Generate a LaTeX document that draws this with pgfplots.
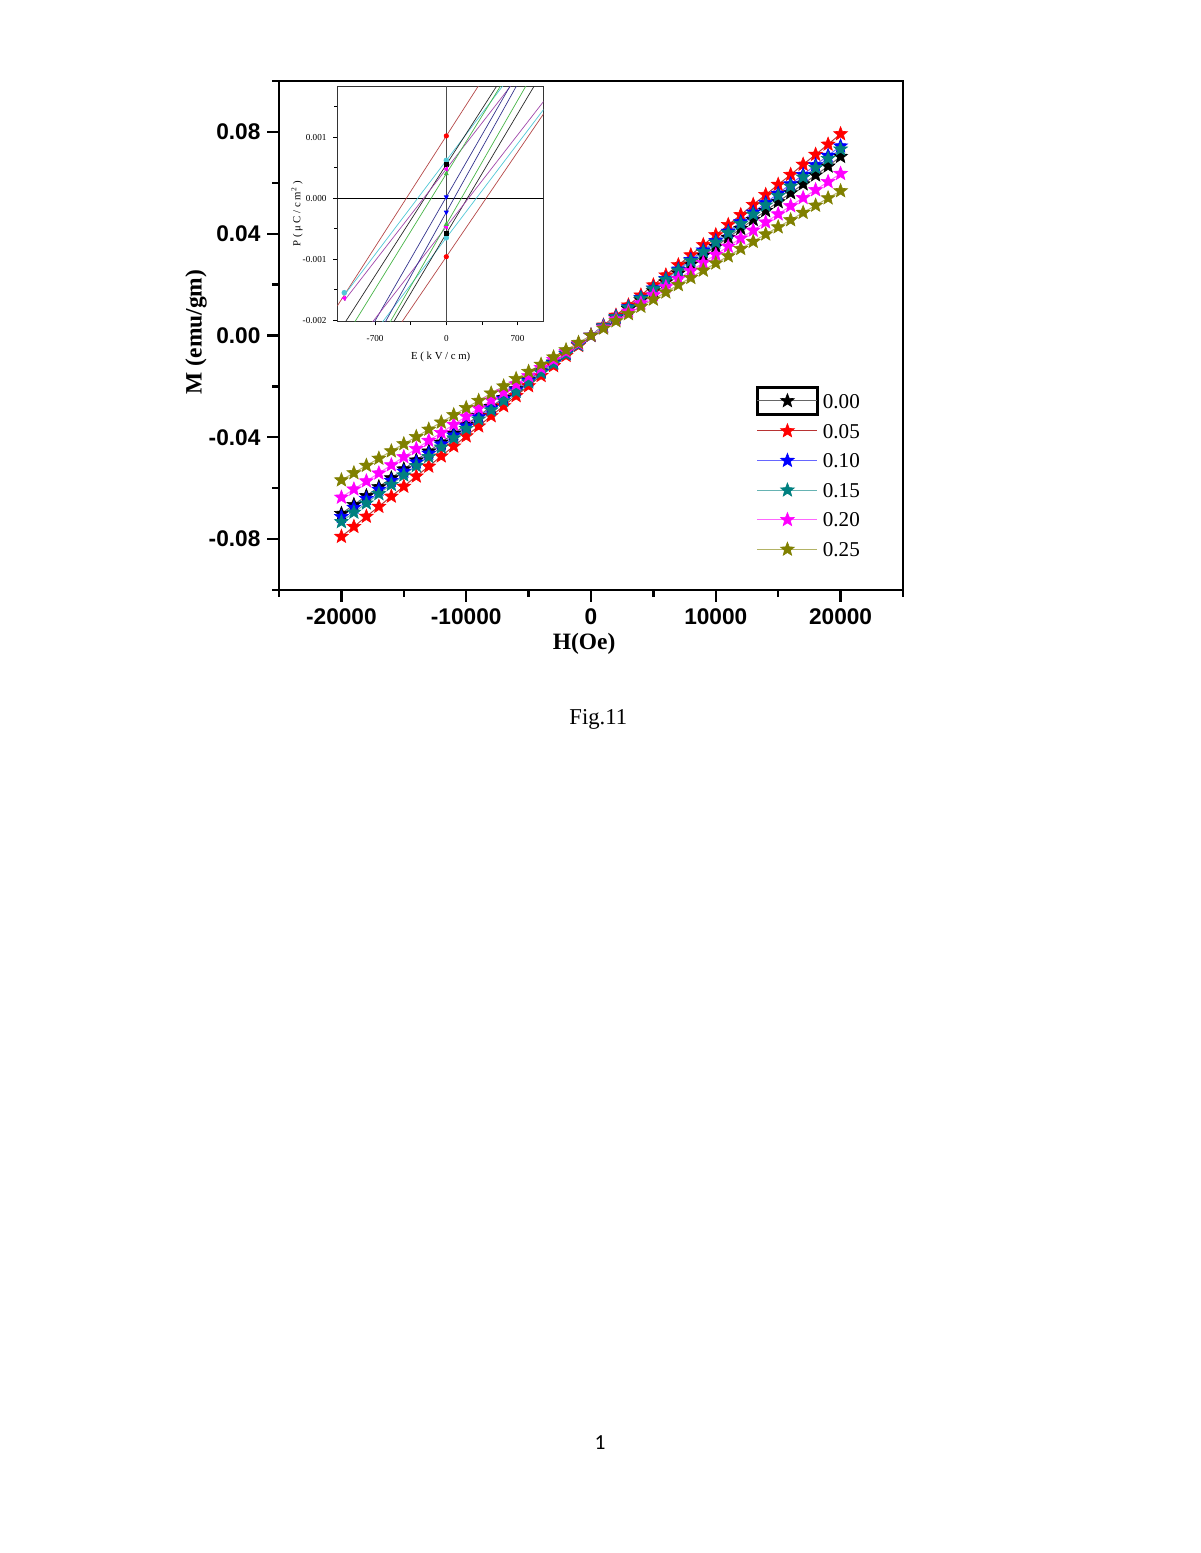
\documentclass[border=0pt]{standalone}
\usepackage{fontspec}
\setmainfont{Liberation Serif}
\newfontfamily\arialf{Liberation Sans}
\newfontfamily\calibrif{Carlito}
\usepackage{pgfplots}
\usepackage{pgfplotstable}
\pgfplotsset{compat=1.18}
\usetikzlibrary{plotmarks}

\definecolor{cblack}{RGB}{0,0,0}
\definecolor{cred}{RGB}{255,0,0}
\definecolor{cblue}{RGB}{0,0,255}
\definecolor{cteal}{RGB}{0,128,128}
\definecolor{cmag}{RGB}{255,0,255}
\definecolor{colive}{RGB}{128,128,0}
\definecolor{ibrown}{RGB}{180,70,70}
\definecolor{icyan}{RGB}{80,200,215}
\definecolor{imag}{RGB}{160,70,170}
\definecolor{igreen}{RGB}{70,180,70}
\definecolor{inavy}{RGB}{50,50,140}

\pgfdeclareplotmark{fstar}{%
  \pgfpathmoveto{\pgfpointpolar{90}{\pgfplotmarksize}}%
  \pgfpathlineto{\pgfpointpolar{126}{0.43\pgfplotmarksize}}%
  \pgfpathlineto{\pgfpointpolar{162}{\pgfplotmarksize}}%
  \pgfpathlineto{\pgfpointpolar{198}{0.43\pgfplotmarksize}}%
  \pgfpathlineto{\pgfpointpolar{234}{\pgfplotmarksize}}%
  \pgfpathlineto{\pgfpointpolar{270}{0.43\pgfplotmarksize}}%
  \pgfpathlineto{\pgfpointpolar{306}{\pgfplotmarksize}}%
  \pgfpathlineto{\pgfpointpolar{342}{0.43\pgfplotmarksize}}%
  \pgfpathlineto{\pgfpointpolar{18}{\pgfplotmarksize}}%
  \pgfpathlineto{\pgfpointpolar{54}{0.43\pgfplotmarksize}}%
  \pgfpathclose
  \pgfusepathqfillstroke
}

\pgfplotstableread{
H s000 s005 s010 s015 s020 s025
-20000 -0.0700 -0.0790 -0.0712 -0.0732 -0.0636 -0.0568
-19000 -0.0665 -0.0751 -0.0676 -0.0695 -0.0604 -0.0540
-18000 -0.0630 -0.0711 -0.0641 -0.0659 -0.0572 -0.0511
-17000 -0.0595 -0.0672 -0.0605 -0.0622 -0.0541 -0.0483
-16000 -0.0560 -0.0632 -0.0570 -0.0586 -0.0509 -0.0454
-15000 -0.0525 -0.0593 -0.0534 -0.0549 -0.0477 -0.0426
-14000 -0.0490 -0.0553 -0.0498 -0.0512 -0.0445 -0.0398
-13000 -0.0455 -0.0514 -0.0463 -0.0476 -0.0413 -0.0369
-12000 -0.0420 -0.0474 -0.0427 -0.0439 -0.0382 -0.0341
-11000 -0.0385 -0.0435 -0.0392 -0.0403 -0.0350 -0.0312
-10000 -0.0350 -0.0395 -0.0356 -0.0366 -0.0318 -0.0284
-9000 -0.0315 -0.0356 -0.0320 -0.0329 -0.0286 -0.0256
-8000 -0.0280 -0.0316 -0.0285 -0.0293 -0.0254 -0.0227
-7000 -0.0245 -0.0277 -0.0249 -0.0256 -0.0223 -0.0199
-6000 -0.0210 -0.0237 -0.0214 -0.0220 -0.0191 -0.0170
-5000 -0.0175 -0.0198 -0.0178 -0.0183 -0.0159 -0.0142
-4000 -0.0140 -0.0158 -0.0142 -0.0146 -0.0127 -0.0114
-3000 -0.0105 -0.0119 -0.0107 -0.0110 -0.0095 -0.0085
-2000 -0.0070 -0.0079 -0.0071 -0.0073 -0.0064 -0.0057
-1000 -0.0035 -0.0040 -0.0036 -0.0037 -0.0032 -0.0028
0 0 0 0 0 0 0
1000 0.0035 0.0040 0.0037 0.0037 0.0032 0.0028
2000 0.0070 0.0079 0.0074 0.0073 0.0064 0.0057
3000 0.0105 0.0119 0.0112 0.0110 0.0095 0.0085
4000 0.0140 0.0158 0.0149 0.0146 0.0127 0.0114
5000 0.0175 0.0198 0.0186 0.0183 0.0159 0.0142
6000 0.0210 0.0237 0.0223 0.0220 0.0191 0.0170
7000 0.0245 0.0277 0.0260 0.0256 0.0223 0.0199
8000 0.0280 0.0316 0.0298 0.0293 0.0254 0.0227
9000 0.0315 0.0356 0.0335 0.0329 0.0286 0.0256
10000 0.0350 0.0395 0.0372 0.0366 0.0318 0.0284
11000 0.0385 0.0435 0.0409 0.0403 0.0350 0.0312
12000 0.0420 0.0474 0.0446 0.0439 0.0382 0.0341
13000 0.0455 0.0514 0.0484 0.0476 0.0413 0.0369
14000 0.0490 0.0553 0.0521 0.0512 0.0445 0.0398
15000 0.0525 0.0593 0.0558 0.0549 0.0477 0.0426
16000 0.0560 0.0632 0.0595 0.0586 0.0509 0.0454
17000 0.0595 0.0672 0.0632 0.0622 0.0541 0.0483
18000 0.0630 0.0711 0.0670 0.0659 0.0572 0.0511
19000 0.0665 0.0751 0.0707 0.0695 0.0604 0.0540
20000 0.0703 0.0792 0.0744 0.0732 0.0636 0.0568
}\mdata

\begin{document}
\begin{tikzpicture}
\fill[white] (0,0) rectangle (612bp,792bp);
\path[use as bounding box] (0,0) rectangle (612bp,792bp);

\begin{axis}[
  at={(142.3bp,491.1bp)}, anchor=south west,
  scale only axis, width=318.2bp, height=259.6bp,
  xmin=-25000, xmax=25000, ymin=-0.1, ymax=0.1,
  xtick={-20000,-10000,0,10000,20000},
  minor xtick={-25000,-15000,-5000,5000,15000,25000},
  ytick={-0.08,-0.04,0,0.04,0.08},
  minor ytick={-0.1,-0.06,-0.02,0.02,0.06,0.1},
  scaled x ticks=false, scaled y ticks=false,
  tick pos=left, tick align=outside,
  major tick length=6bp, minor tick length=3.5bp,
  tick style={line width=1.2bp, black},
  axis line style={line width=1.2bp},
  /pgf/number format/assume math mode=true,
  /pgf/number format/1000 sep={},
  ticklabel style={font=\arialf\bfseries\fontsize{11.6}{13}\selectfont},
  yticklabel style={/pgf/number format/fixed, /pgf/number format/fixed zerofill, /pgf/number format/precision=2},
  xlabel={H(Oe)}, ylabel={M (emu/gm)},
  label style={font=\bfseries\fontsize{12}{14}\selectfont},
  xlabel style={at={(axis description cs:0.489,-0.106)}, anchor=center},
  ylabel style={at={(axis description cs:-0.133,0.507)}, anchor=center},
  legend style={at={(axis description cs:0.7636,0.4024)}, anchor=north west, draw=none, fill=none,
    inner sep=0pt, font=\fontsize{10.8}{12}\selectfont, row sep=0pt, column sep=2bp,
    nodes={inner sep=0pt, text height=11.2bp, text depth=3.9bp}},
  legend cell align=left,
  legend image code/.code={\draw[mark repeat=2,mark phase=2] plot coordinates {(0bp,0bp)(15.3bp,0bp)(30.6bp,0bp)};},
]
\addplot[draw=black!60, line width=0.5bp, mark=fstar, mark size=3.7bp,
  mark options={draw=cblack, fill=cblack, solid, line width=0.3bp},
  legend image code/.code={\draw[black, line width=1.6bp] (0bp,-7bp) rectangle (30.6bp,7bp);
     \draw[mark repeat=2,mark phase=2] plot coordinates {(0bp,0bp)(15.3bp,0bp)(30.6bp,0bp)};}]
  table[x=H, y=s000] {\mdata};
\addlegendentry{0.00}
\addplot[draw=cred!65!black!80, line width=0.5bp, mark=fstar, mark size=3.7bp,
  mark options={draw=cred, fill=cred, solid, line width=0.3bp}]
  table[x=H, y=s005] {\mdata};
\addlegendentry{0.05}
\addplot[draw=cblue!60, line width=0.5bp, mark=fstar, mark size=3.7bp,
  mark options={draw=cblue, fill=cblue, solid, line width=0.3bp}]
  table[x=H, y=s010] {\mdata};
\addlegendentry{0.10}
\addplot[draw=cteal!60, line width=0.5bp, mark=fstar, mark size=3.7bp,
  mark options={draw=cteal, fill=cteal, solid, line width=0.3bp}]
  table[x=H, y=s015] {\mdata};
\addlegendentry{0.15}
\addplot[draw=cmag!60, line width=0.5bp, mark=fstar, mark size=3.7bp,
  mark options={draw=cmag, fill=cmag, solid, line width=0.3bp}]
  table[x=H, y=s020] {\mdata};
\addlegendentry{0.20}
\addplot[draw=colive!60, line width=0.5bp, mark=fstar, mark size=3.7bp,
  mark options={draw=colive, fill=colive, solid, line width=0.3bp}]
  table[x=H, y=s025] {\mdata};
\addlegendentry{0.25}
\end{axis}

% inset
\begin{axis}[
  at={(172.0bp,628.0bp)}, anchor=south west,
  scale only axis, width=105.1bp, height=119.7bp,
  xmin=-1072, xmax=954, ymin=-0.002023, ymax=0.001825,
  xtick={-700,0,700}, minor xtick={-350,350},
  ytick={-0.002,-0.001,0,0.001}, minor ytick={-0.0015,-0.0005,0.0005,0.0015},
  scaled x ticks=false, scaled y ticks=false,
  tick pos=left, tick align=outside,
  major tick length=2bp, minor tick length=1.5bp,
  tick style={line width=0.4bp, black},
  axis line style={line width=0.5bp, black!80},
  /pgf/number format/assume math mode=true,
  /pgf/number format/1000 sep={},
  ticklabel style={font=\fontsize{4.7}{5}\selectfont},
  yticklabel style={/pgf/number format/fixed, /pgf/number format/fixed zerofill, /pgf/number format/precision=3},
  xticklabel style={yshift=-1.5bp},
  xlabel={E ( k V / c m)}, ylabel={P ( μ C / c m\textsuperscript{2} )},
  label style={font=\fontsize{5.5}{6}\selectfont},
  xlabel style={at={(axis description cs:0.502,-0.149)}, anchor=center},
  ylabel style={at={(axis description cs:-0.195,0.46)}, anchor=center},
]
\addplot[black, line width=0.45bp] coordinates {(-1100,0) (1000,0)};
\addplot[black!70, line width=0.45bp] coordinates {(0,-0.0021) (0,0.0019)};
% upper branches
\addplot[ibrown, line width=0.35bp] coordinates {(-1100,-0.00184) (1000,0.00362)};
\addplot[icyan, line width=0.35bp] coordinates {(-1003,-0.00159) (1000,0.00282)};
\addplot[black!85, line width=0.35bp] coordinates {(-1100,-0.00231) (1000,0.00315)};
\addplot[imag, line width=0.35bp] coordinates {(-1003,-0.00168) (1000,0.00263)};
\addplot[igreen, line width=0.35bp] coordinates {(-1100,-0.00257) (1000,0.00310)};
\addplot[inavy, line width=0.35bp] coordinates {(-1100,-0.00317) (1000,0.00292)};
% lower branches
\addplot[ibrown, line width=0.35bp] coordinates {(-1100,-0.003655) (1000,0.00149)};
\addplot[icyan, line width=0.35bp] coordinates {(-1100,-0.00307) (1000,0.00155)};
\addplot[black!85, line width=0.35bp] coordinates {(-1100,-0.00366) (1000,0.00222)};
\addplot[imag, line width=0.35bp] coordinates {(-1100,-0.002835) (1000,0.00168)};
\addplot[igreen, line width=0.35bp] coordinates {(-1100,-0.00362) (1000,0.00247)};
\addplot[inavy, line width=0.35bp] coordinates {(-1100,-0.00353) (1000,0.00277)};
% markers
\addplot[only marks, mark=*, mark size=1.1bp, color=red] coordinates {(0,0.00102) (0,-0.00096)};
\addplot[only marks, mark=*, mark size=1.2bp, color=icyan] coordinates {(0,0.00062) (0,-0.00065) (-1003,-0.00155)};
\addplot[only marks, mark=square*, mark size=0.9bp, color=black] coordinates {(0,0.00055) (0,-0.00058)};
\addplot[only marks, mark=triangle*, mark size=1.1bp, color=cmag, mark options={rotate=90}] coordinates {(0,0.00048) (0,-0.00047) (-1003,-0.00164)};
\addplot[only marks, mark=triangle*, mark size=1.1bp, color=igreen] coordinates {(0,0.00040) (0,-0.00043)};
\addplot[only marks, mark=triangle*, mark size=1.1bp, color=cblue, mark options={rotate=180}] coordinates {(0,0.00002) (0,-0.00023)};
\end{axis}

\node[font=\fontsize{11.6}{13}\selectfont, anchor=base] at (305.1bp,422.3bp) {Fig.11};
\node[font=\calibrif\fontsize{11}{13}\selectfont, anchor=base] at (306bp,53bp) {1};
\end{tikzpicture}
\end{document}
